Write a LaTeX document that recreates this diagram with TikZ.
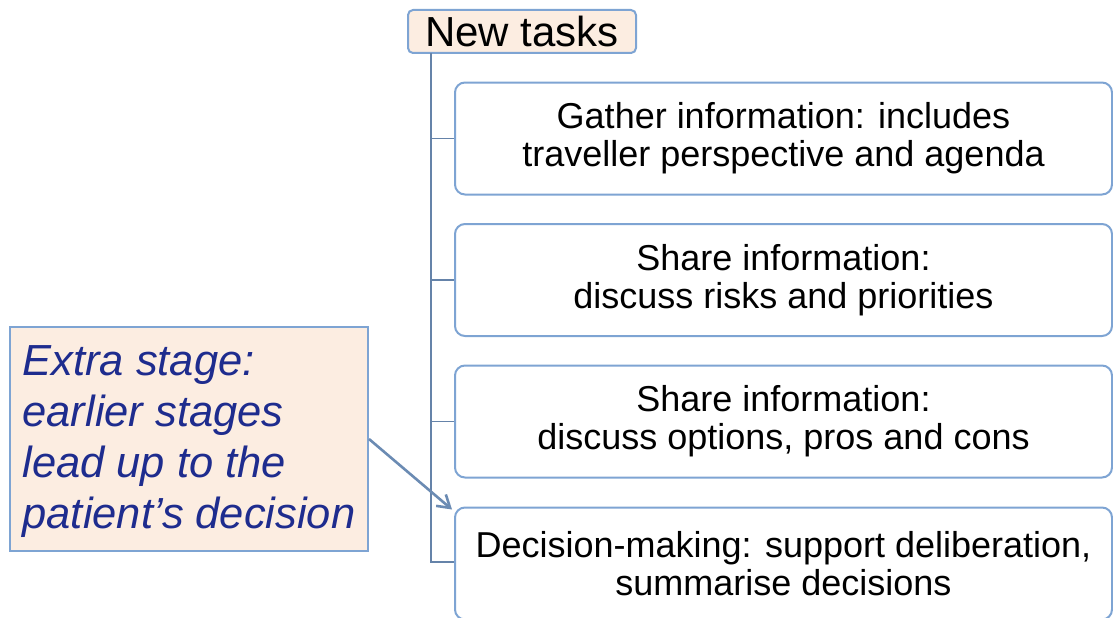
\documentclass[tikz,border=0pt]{standalone}
\usepackage{fontspec}
\setmainfont{Liberation Sans}
\usetikzlibrary{arrows.meta,calc}
\definecolor{edgeblue}{HTML}{7EA4D3}
\definecolor{peach}{HTML}{FCEDE1}
\definecolor{navy}{HTML}{1E2C8E}
\tikzset{
  taskbox/.style={draw=edgeblue, line width=2pt, rounded corners=10pt, fill=white,
    minimum width=657pt, minimum height=112pt, align=center, inner sep=0pt,
    font=\fontsize{36}{37}\selectfont},
  titlebox/.style={draw=edgeblue, line width=2pt, rounded corners=5pt, fill=peach,
    minimum width=228pt, minimum height=43pt, inner sep=0pt,
    font=\fontsize{42}{44}\selectfont},
  callout/.style={draw=edgeblue, line width=2pt, fill=peach,
    minimum width=358pt, minimum height=224pt, align=left, inner sep=0pt,
    text=navy, font=\fontsize{43.5}{51}\selectfont\itshape},
  trunk/.style={draw=edgeblue!80!black, line width=1.6pt},
  pointer/.style={draw=edgeblue!85!black, line width=2.6pt, -{Straight Barb[length=12pt,width=15pt,line width=2.6pt]}}
}
\begin{document}
\begin{tikzpicture}[x=1pt,y=-1pt]
\useasboundingbox (0,0) rectangle (1113,618);
\node[titlebox] (title) at (522,31.5) {New tasks};
\coordinate (top) at (431,53);
\draw[trunk] (top) |- (563,562) coordinate (bottom);
\node[taskbox] (b1) at (783.5,138.5) {\strut Gather information: includes\\traveller perspective and agenda};
\node[taskbox] (b2) at (783.5,280) {\strut Share information:\\discuss risks and priorities};
\node[taskbox] (b3) at (783.5,421.5) {\strut Share information:\\discuss options, pros and cons};
\node[taskbox] (b4) at (783.5,563.5) {\strut Decision-making: support deliberation,\\summarise decisions};
\draw[trunk] (top |- b1.west) -- (b1.west);
\draw[trunk] (top |- b2.west) -- (b2.west);
\draw[trunk] (top |- b3.west) -- (b3.west);
\node[callout] (extra) at (189,439) {\strut Extra stage:\\earlier stages\\lead up to the\\patient’s decision};
\draw[pointer] (extra.east) -- ($(b4.north west)+(-2,3)$);
\end{tikzpicture}
\end{document}
